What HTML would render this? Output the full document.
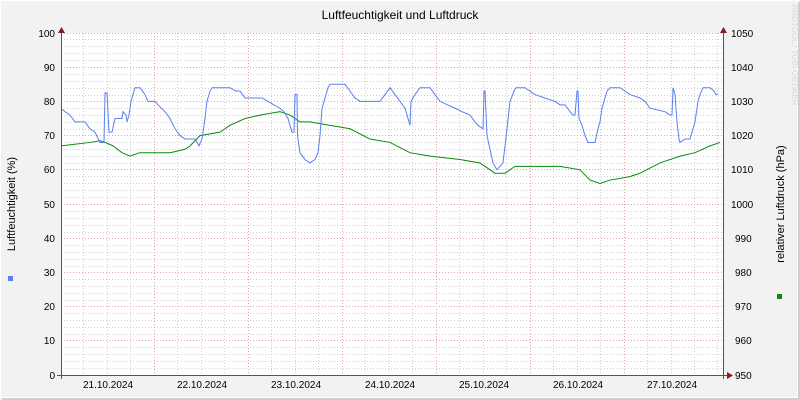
<!DOCTYPE html>
<html><head><meta charset="utf-8"><style>
body{margin:0;background:#f2f2f2}
svg{display:block}
text{font-family:"Liberation Sans","DejaVu Sans",sans-serif;font-size:10px;fill:#000}
</style></head><body>
<svg width="800" height="400" xmlns="http://www.w3.org/2000/svg">
<rect x="0" y="0" width="800" height="400" fill="#f2f2f2"/>
<rect x="0.5" y="0.5" width="797" height="397" fill="none" stroke="#fff"/>
<rect x="2" y="398" width="798" height="2" fill="#cfcfcf"/><rect x="798" y="2" width="2" height="398" fill="#cfcfcf"/>
<rect x="61" y="33" width="662" height="342" fill="#fff"/>
<g stroke="#d0d0d0" stroke-dasharray="1,2" stroke-width="1">
<path d="M61 368.5H723M61 361.5H723M61 354.5H723M61 347.5H723M61 334.5H723M61 327.5H723M61 320.5H723M61 313.5H723M61 300.5H723M61 293.5H723M61 286.5H723M61 279.5H723M61 266.5H723M61 259.5H723M61 252.5H723M61 245.5H723M61 232.5H723M61 225.5H723M61 218.5H723M61 211.5H723M61 197.5H723M61 190.5H723M61 183.5H723M61 176.5H723M61 163.5H723M61 156.5H723M61 149.5H723M61 142.5H723M61 129.5H723M61 122.5H723M61 115.5H723M61 108.5H723M61 95.5H723M61 88.5H723M61 81.5H723M61 74.5H723M61 60.5H723M61 53.5H723M61 46.5H723M61 39.5H723"/>
<path d="M83.5 33V375M107.5 33V375M130.5 33V375M177.5 33V375M201.5 33V375M224.5 33V375M271.5 33V375M295.5 33V375M318.5 33V375M365.5 33V375M389.5 33V375M412.5 33V375M459.5 33V375M483.5 33V375M506.5 33V375M553.5 33V375M577.5 33V375M600.5 33V375M647.5 33V375M671.5 33V375M694.5 33V375M717.5 33V375"/>
</g>
<g stroke="#e8a0a0" stroke-dasharray="1,2" stroke-width="1">
<path d="M61 340.5H723M61 306.5H723M61 272.5H723M61 238.5H723M61 204.5H723M61 169.5H723M61 135.5H723M61 101.5H723M61 67.5H723M61 33.5H723"/>
<path d="M154.5 33V375M248.5 33V375M342.5 33V375M436.5 33V375M530.5 33V375M624.5 33V375"/>
</g>
<g transform="translate(0,375) scale(1,-3.42)" fill="none" stroke-width="1">
<polyline vector-effect="non-scaling-stroke" stroke="#0a8a0a" points="61,67 90,68 100,68.5 105,68 113,67 122,65 130,64 140,65 150,65 170,65 185,66 190,67 200,70 220,71 230,73 245,75 260,76 280,77 290,76 300,74 310,74 330,73 350,72 370,69 390,68 410,65 430,64 460,63 480,62 495,59 505,59 515,61 530,61 560,61 580,60 590,57 600,56 610,57 630,58 640,59 660,62 680,64 695,65 710,67 720,68"/>
<polyline vector-effect="non-scaling-stroke" stroke="#5a7ff0" points="61,78 65,77 70,76 75,74 85,74 90,72 95,71 100,68 104,68 105,82.5 107,82.5 109,71 112,71 115,75 122,75 123,77 126,76 127,74 129,76 131,80 135,84 140,84 145,82 148,80 155,80 158,79 165,77 170,75 175,72 180,70 185,69 195,69 199,67 202,69 205,75 207,80 210,83 212,84 230,84 236,83 240,83 245,81 262,81 268,80 280,78 284,77 288,75 292,71 294,71 295,82 297,82 297.5,70 300,65 305,63 310,62 315,63 318,65 320,70 322,78 324,80 328,84 330,85 345,85 350,83 355,81 360,80 380,80 385,82 390,84 395,82 400,80 405,78 408,75 410,73 411,80 415,82 420,84 430,84 435,82 440,80 455,78 462,77 470,76 475,74 478,73 483,72 484,83 485,83 487,70 490,66 493,62 497,60 503,62 507,72 510,80 514,83 516,84 525,84 530,83 535,82 545,81 555,80 560,79 565,79 570,77 573,76 575,76 577,83 578,83 579,75 582,73 585,70 588,68 595,68 598,72 600,74 602,78 604,80 607,83 610,84 620,84 625,83 630,82 640,81 645,80 650,78 665,77 670,76 672,76 673,84 675,82 677,74 679,69 680,68 685,69 690,69 693,72 695,74 698,80 700,82 703,84 710,84 714,83 716,82 718,82"/>
</g>
<path d="M61.5 33V379M723.5 33V379M57 375.5H727" stroke="#555" stroke-width="1"/>
<path d="M58 33L61.5 27L65 33Z M720 33L723.5 27L727 33Z M727 372L733 375.5L727 379Z" fill="#8b1a1a"/>
<g text-anchor="end">
<text x="55" y="37">100</text><text x="55" y="71">90</text><text x="55" y="105">80</text><text x="55" y="139">70</text><text x="55" y="173">60</text><text x="55" y="208">50</text><text x="55" y="242">40</text><text x="55" y="276">30</text><text x="55" y="310">20</text><text x="55" y="344">10</text><text x="55" y="379">0</text>
</g>
<g>
<text x="731" y="37">1050</text><text x="731" y="71">1040</text><text x="731" y="105">1030</text><text x="731" y="139">1020</text><text x="731" y="173">1010</text><text x="731" y="208">1000</text><text x="735" y="242">990</text><text x="735" y="276">980</text><text x="735" y="310">970</text><text x="735" y="344">960</text><text x="735" y="379">950</text>
</g>
<g text-anchor="middle">
<text x="108" y="388">21.10.2024</text><text x="202" y="388">22.10.2024</text><text x="296" y="388">23.10.2024</text><text x="390" y="388">24.10.2024</text><text x="484" y="388">25.10.2024</text><text x="578" y="388">26.10.2024</text><text x="672" y="388">27.10.2024</text>
<text x="400" y="19" style="font-size:12px">Luftfeuchtigkeit und Luftdruck</text>
<text transform="translate(15,204) rotate(-90)" style="font-size:11px">Luftfeuchtigkeit (%)</text>
<text transform="translate(784,204) rotate(-90)" style="font-size:11px">relativer Luftdruck (hPa)</text>
<text transform="translate(792,55) rotate(90)" style="font-size:8px;fill:#d8d8d8">RRDTOOL / TOBI OETIKER</text>
</g>
<rect x="8" y="276" width="5" height="5" fill="#5a7ff0"/>
<rect x="777" y="294" width="5" height="5" fill="#0a8a0a"/>
</svg>
</body></html>
